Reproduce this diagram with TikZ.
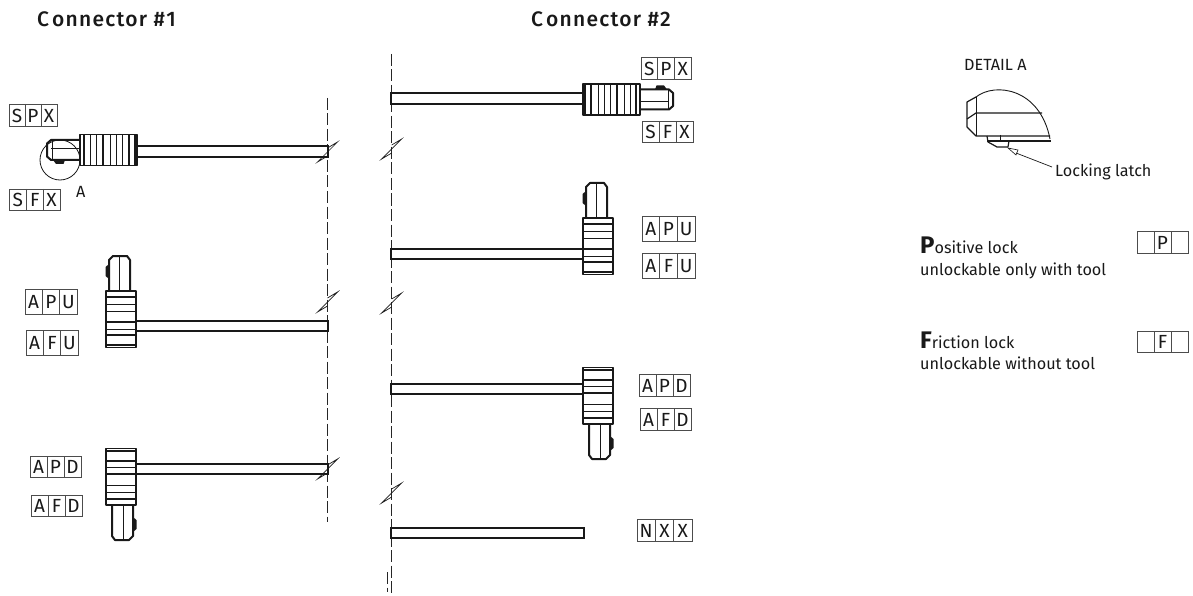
\documentclass[tikz,border=0pt]{standalone}
\usepackage{fontspec}
\setmainfont{Fira Sans}
\newfontfamily\headfont[LetterSpace=6]{Fira Sans Medium}
\tikzset{
  ink/.style={draw=black!90,line width=0.9pt,line join=round},
  thick ink/.style={draw=black!90,line width=2pt,line join=round},
  grip line/.style={draw=black!90,line width=0.8pt},
  grip bar/.style={draw=black!90,line width=1.9pt},
  cable/.style={draw=black!90,line width=2.3pt,line join=miter},
  axis line/.style={draw=black!85,line width=0.8pt,dash pattern=on 12pt off 3.5pt},
  break line/.style={draw=black!90,line width=0.7pt,line join=miter},
  frame/.style={draw=black!70,line width=0.9pt},
  celltext/.style={font=\fontsize{19}{19}\selectfont,text=black!90,inner sep=0pt,anchor=center},
  plain/.style={font=\fontsize{16.2}{16}\selectfont,text=black!90,inner sep=0pt,anchor=base west},
  head/.style={font=\headfont\fontsize{21}{21}\selectfont,text=black!90,inner sep=0pt,anchor=base west}
}
% name, x0, y0, x1, y1, three letters
\newcommand{\codebox}[8]{%
  \draw[frame] (#2,#3) rectangle (#4,#5);
  \draw[frame] ({#2+(#4-#2)/3},#3) -- ({#2+(#4-#2)/3},#5);
  \draw[frame] ({#2+2*(#4-#2)/3},#3) -- ({#2+2*(#4-#2)/3},#5);
  \node[celltext] (#1a) at ({#2+(#4-#2)/6},{(#3+#5)/2+0.5}) {#6};
  \node[celltext] (#1b) at ({#2+(#4-#2)/2},{(#3+#5)/2+0.5}) {#7};
  \node[celltext] (#1c) at ({#2+5*(#4-#2)/6},{(#3+#5)/2+0.5}) {#8};
}
% horizontal connector: x of grip cable edge, centre y, xscale, yscale
\newcommand{\hconn}[4]{%
  \begin{scope}[shift={(#1,#2)},xscale=#3,yscale=#4]
    \draw[ink,line width=1.2pt] (0,-15.5) rectangle (57,15.5);
    \foreach \u in {15,21,27,41,47} \draw[grip line] (\u,-15.5) -- (\u,15.5);
    \foreach \u in {2,8,34,53} \draw[grip bar] (\u,-15.5) -- (\u,15.5);
    \draw[thick ink] (57,-10) -- (86,-10) -- (90,-6.5) -- (90,6.5) -- (86,10) -- (57,10);
    \draw[ink] (57,-2) -- (86,-2) (85,-10) -- (85,10);
    \fill[black!90] (72,10) -- (73.5,14) -- (81,14) -- (84,10) -- cycle;
  \end{scope}
}
% vertical connector: centre x, y of grip nose edge, xscale (latch side), yscale
\newcommand{\vconn}[4]{%
  \begin{scope}[shift={(#1,#2)},xscale=#3,yscale=#4]
    \draw[ink,line width=1.4pt] (-15,0) rectangle (15,56.5);
    \foreach \v in {13,20,38} \draw[grip line] (-15,\v) -- (15,\v);
    \foreach \v in {6,31,44,54} \draw[grip bar] (-15,\v) -- (15,\v);
    \draw[thick ink] (-12,0) -- (-12,-31) -- (-8,-35) -- (6,-35) -- (9,-31) -- (9,0);
    \draw[ink] (-2,0) -- (-2,-34);
    \fill[black!90] (-12,-27) -- (-15.5,-24) -- (-15.5,-15) -- (-12,-12) -- cycle;
  \end{scope}
}
% break symbol centred on x,y
\newcommand{\brk}[2]{%
  \draw[break line] (#1,{#2-4}) -- ({#1+10},{#2-10}) -- ({#1-10},{#2+10}) -- (#1,{#2+4});
}
\begin{document}
\begin{tikzpicture}[x=1pt,y=-1pt]
\useasboundingbox (0,0) rectangle (1193,596);
\fill[white] (0,0) rectangle (1193,596);
% headers
\node[head] (h1) at (37,27) {C\kern3pt onnector \#1};
\node[head] (h2) at (531,27) {C\kern3pt onnector \#2};
% centre lines
\draw[axis line] (327.5,98) -- (327.5,522);
\draw[axis line] (391.7,54) -- (391.7,596);
\draw[axis line] (387,572) -- (387,592);
% breaks
\brk{327.5}{152}\brk{327.5}{302}\brk{327.5}{469}
\brk{391.7}{149}\brk{391.7}{303}\brk{391.7}{493}
% connector 1
\hconn{137}{150}{-1}{1}
\draw[cable] (137,146) -- (328,146) -- (328,157) -- (137,157);
\draw[black!90,line width=0.8pt] (60,160) circle (20);
\vconn{121}{291}{1}{1}
\draw[cable] (136,321) -- (328,321);
\draw[cable] (136,331) -- (328,331);
\draw[black!90,line width=1.2pt] (328,320) -- (328,332);
\vconn{121}{505}{-1}{-1}
\draw[cable] (136,464) -- (328,464) -- (328,474) -- (136,474);
% connector 2
\hconn{583}{99.5}{1}{-1}
\draw[cable] (583,93) -- (391,93) -- (391,104) -- (583,104);
\vconn{598}{218}{1}{1}
\draw[cable] (583,249) -- (391,249) -- (391,259) -- (583,259);
\vconn{598}{424}{-1}{-1}
\draw[cable] (583,384) -- (391,384) -- (391,394) -- (583,394);
\draw[cable] (391,528) rectangle (584,538);
% code boxes
\codebox{spxa}{9}{104}{57}{126}{S}{P}{X}
\codebox{sfxa}{9.5}{189}{60}{210}{S}{F}{X}
\codebox{apua}{25}{289}{77}{314}{A}{P}{U}
\codebox{afua}{26}{330}{78}{355}{A}{F}{U}
\codebox{apda}{30}{456}{81}{477}{A}{P}{D}
\codebox{afda}{31}{495}{82}{516}{A}{F}{D}
\codebox{spxb}{641}{57}{691}{79}{S}{P}{X}
\codebox{sfxb}{642}{121}{693}{142}{S}{F}{X}
\codebox{apub}{642}{216}{695}{241}{A}{P}{U}
\codebox{afub}{642}{253}{695}{278}{A}{F}{U}
\codebox{apdb}{639}{374}{690}{396}{A}{P}{D}
\codebox{afdb}{640}{408}{691}{430}{A}{F}{D}
\codebox{nxxb}{637}{519}{692}{541}{N}{X}{X}
\codebox{pkey}{1137}{231}{1188}{253}{}{P}{}
\codebox{fkey}{1137}{331}{1188}{352}{}{F}{}
% labels
\node[plain] (alabel) at (76,197) {A};
\node[plain] (detail) at (964,71) {DETAIL A};
\node[plain] (latch) at (1055,177) {Locking latch};
\node[plain] (pos) at (920,253) {{\fontsize{24}{24}\selectfont\bfseries P}ositive lock};
\node[plain] (posb) at (920,275) {unlockable only with tool};
\node[plain] (fri) at (920,348) {{\fontsize{24}{24}\selectfont\bfseries F}riction lock};
\node[plain] (frib) at (920,369) {unlockable without tool};
% detail A
\draw[ink] (976,97) .. controls (995,82) and (1040,88) .. (1050,139);
\draw[ink,line width=1.2pt] (976,97) -- (967,102) -- (967,127) -- (976,136) -- (1050,136);
\draw[ink] (976,97) -- (976,136);
\draw[ink,line width=1.2pt] (967,119) -- (976,113) -- (1042,113);
\draw[ink,line width=1.2pt] (987,141) -- (1051,141);
\draw[ink,line width=1.2pt] (987,136) -- (988,142) -- (997,147) -- (1008,147) -- (1009,141);
\draw[ink] (1000,135) -- (1000,141);
\draw[black!90,line width=0.6pt] (1008,148) -- (1018,150) -- (1016,155) -- cycle;
\draw[black!90,line width=0.7pt] (1016,153) -- (1052,167);
\end{tikzpicture}
\end{document}
